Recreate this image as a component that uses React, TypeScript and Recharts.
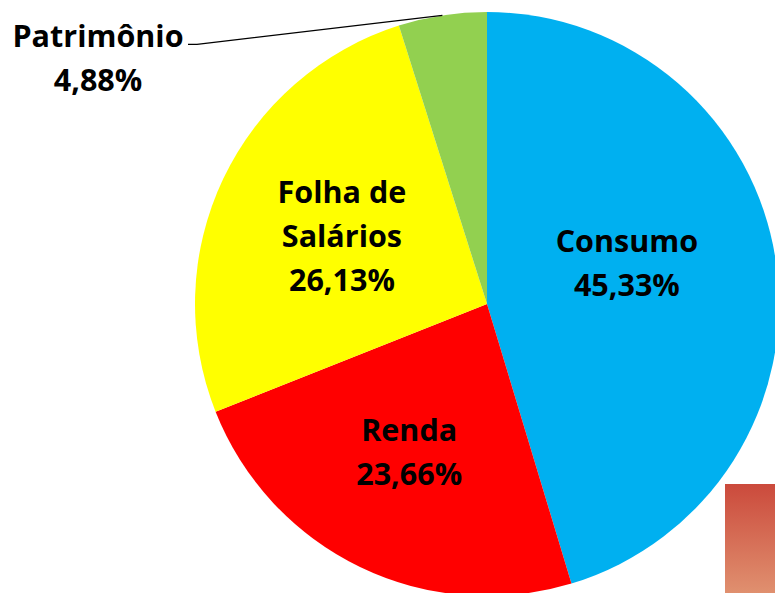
import React from 'react';
import { PieChart, Pie, Cell } from 'recharts';

const categories = ['Consumo', 'Renda', 'Folha de Salários', 'Patrimônio'];
const shares = [45.33, 23.66, 26.13, 4.88];
const colors = ['#00B0F0', '#FF0000', '#FFFF00', '#92D050'];

const data = categories.map((name, i) => ({ name, value: shares[i] }));

const RAD = Math.PI / 180;
const FONT = '"Open Sans", sans-serif';

const fmt = (v: number) => v.toFixed(2).replace('.', ',') + '%';

const splitName = (name: string) => {
  if (name.length > 12 && name.includes(' ')) {
    const k = name.lastIndexOf(' ');
    return [name.slice(0, k), name.slice(k + 1)];
  }
  return [name];
};

// small hand nudges so inside labels sit where the original has them
const nudge: Record<number, [number, number]> = { 0: [-19, -19], 1: [-8, 2] };

const renderLabel = (props: any) => {
  const { cx, cy, midAngle, outerRadius, index, value, name } = props;
  const lines = [...splitName(name), fmt(value)];
  const lh = 44;

  // small slice: label outside with a leader line
  if (value < 10) {
    const ex = cx + outerRadius * Math.cos(-midAngle * RAD);
    const ey = cy + outerRadius * Math.sin(-midAngle * RAD);
    const kx = cx - outerRadius - 7;
    const ky = ey + 29;
    const tx = kx - 90;
    return (
      <g key={`lbl-${index}`}>
        <polyline points={`${ex},${ey} ${kx + 9},${ky} ${kx},${ky}`} fill="none" stroke="#000" strokeWidth={1.3} />
        {lines.map((t, j) => (
          <text key={j} x={tx} y={ky - 9 + j * lh} textAnchor="middle" dominantBaseline="central"
            fontFamily={FONT} fontWeight={700} fontSize={30.5} fill="#000">{t}</text>
        ))}
      </g>
    );
  }

  const d = outerRadius * 0.55;
  const [nx, ny] = nudge[index] || [0, 0];
  const x = cx + d * Math.cos(-midAngle * RAD) + nx;
  const y = cy + d * Math.sin(-midAngle * RAD) + ny;
  const y0 = y - ((lines.length - 1) * lh) / 2;
  return (
    <g key={`lbl-${index}`}>
      {lines.map((t, j) => (
        <text key={j} x={x} y={y0 + j * lh} textAnchor="middle" dominantBaseline="central"
          fontFamily={FONT} fontWeight={700} fontSize={30.5} fill="#000">{t}</text>
      ))}
    </g>
  );
};

export default function App() {
  return (
    <div style={{ position: 'absolute', left: 0, top: 0, width: 775, height: 593, background: '#fff', overflow: 'hidden' }}>
      <PieChart width={775} height={593} margin={{ top: 0, right: 0, bottom: 0, left: 0 }}>
        <Pie
          data={data}
          dataKey="value"
          nameKey="name"
          cx={487}
          cy={304}
          outerRadius={292}
          startAngle={90}
          endAngle={-270}
          stroke="none"
          labelLine={false}
          label={renderLabel}
          isAnimationActive={false}
        >
          {data.map((entry, index) => (
            <Cell key={`cell-${index}`} fill={colors[index]} />
          ))}
        </Pie>
      </PieChart>
      <div style={{
        position: 'absolute', left: 725, top: 484, width: 50, height: 109,
        background: 'linear-gradient(to bottom, #CB4A3C, #E0906F)'
      }} />
    </div>
  );
}
